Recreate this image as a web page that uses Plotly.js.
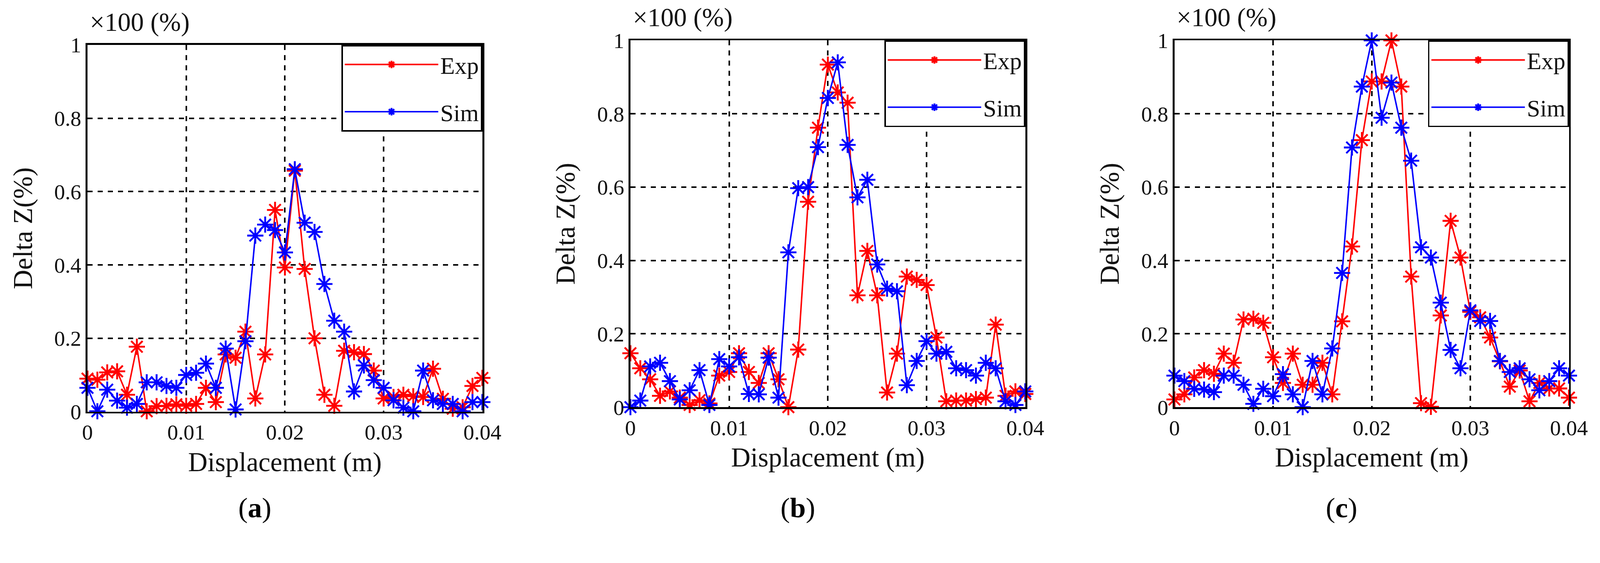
<!DOCTYPE html>
<html>
<head>
<meta charset="utf-8">
<script src="https://cdn.plot.ly/plotly-3.0.1.min.js"></script>
<style>
  html, body { margin: 0; padding: 0; background: #fff; overflow: hidden; }
</style>
</head>
<body>
<div id="chart"></div>
<script>
// displacement samples shared by all three panels (m)
const displacement = [
    0, 0.001, 0.002, 0.003, 0.004, 0.005, 0.006, 0.007, 0.008, 0.009,
    0.010, 0.011, 0.012, 0.013, 0.014, 0.015, 0.016, 0.017, 0.018, 0.019,
    0.020, 0.021, 0.022, 0.023, 0.024, 0.025, 0.026, 0.027, 0.028, 0.029,
    0.030, 0.031, 0.032, 0.033, 0.034, 0.035, 0.036, 0.037, 0.038, 0.039,
    0.040
];

const expA = [
    0.090, 0.087, 0.107, 0.110, 0.046, 0.177, 0.001, 0.015, 0.016, 0.020,
    0.016, 0.021, 0.065, 0.026, 0.156, 0.147, 0.218, 0.036, 0.156, 0.550,
    0.393, 0.657, 0.389, 0.200, 0.046, 0.016, 0.166, 0.162, 0.157, 0.112,
    0.036, 0.040, 0.046, 0.042, 0.040, 0.117, 0.035, 0.008, 0.012, 0.070,
    0.092
];
const simA = [
    0.065, 0.001, 0.060, 0.030, 0.011, 0.021, 0.080, 0.080, 0.070, 0.065,
    0.100, 0.106, 0.131, 0.065, 0.172, 0.006, 0.192, 0.480, 0.510, 0.495,
    0.434, 0.661, 0.515, 0.490, 0.348, 0.248, 0.218, 0.055, 0.126, 0.086,
    0.065, 0.031, 0.011, 0.001, 0.112, 0.031, 0.021, 0.021, 0.001, 0.026,
    0.026
];

const expB = [
    0.147, 0.106, 0.076, 0.031, 0.043, 0.026, 0.006, 0.019, 0.010, 0.086,
    0.096, 0.147, 0.096, 0.066, 0.147, 0.076, 0.000, 0.157, 0.560, 0.762,
    0.934, 0.858, 0.830, 0.305, 0.426, 0.305, 0.040, 0.146, 0.356, 0.347,
    0.333, 0.190, 0.016, 0.018, 0.018, 0.022, 0.026, 0.225, 0.031, 0.043,
    0.036
];
const simB = [
    0.000, 0.018, 0.111, 0.121, 0.071, 0.021, 0.046, 0.101, 0.006, 0.131,
    0.111, 0.136, 0.036, 0.035, 0.135, 0.026, 0.422, 0.597, 0.600, 0.709,
    0.843, 0.940, 0.715, 0.572, 0.620, 0.389, 0.323, 0.316, 0.060, 0.126,
    0.180, 0.146, 0.151, 0.106, 0.101, 0.086, 0.121, 0.106, 0.016, 0.006,
    0.043
];

const expC = [
    0.021, 0.035, 0.081, 0.101, 0.091, 0.146, 0.121, 0.239, 0.241, 0.230,
    0.136, 0.066, 0.146, 0.061, 0.061, 0.121, 0.035, 0.234, 0.438, 0.728,
    0.888, 0.888, 1.000, 0.874, 0.356, 0.011, 0.001, 0.250, 0.508, 0.408,
    0.260, 0.245, 0.190, 0.125, 0.056, 0.100, 0.016, 0.066, 0.051, 0.051,
    0.026
];
const simC = [
    0.086, 0.071, 0.050, 0.048, 0.041, 0.086, 0.086, 0.061, 0.009, 0.050,
    0.030, 0.090, 0.035, 0.000, 0.126, 0.035, 0.160, 0.366, 0.708, 0.874,
    1.000, 0.789, 0.885, 0.762, 0.672, 0.436, 0.408, 0.285, 0.156, 0.106,
    0.264, 0.235, 0.235, 0.126, 0.096, 0.106, 0.076, 0.046, 0.071, 0.106,
    0.086
];

const xTicks = [0, 0.01, 0.02, 0.03, 0.04];
const xTickText = ['0', '0.01', '0.02', '0.03', '0.04'];
const yTicks = [0, 0.2, 0.4, 0.6, 0.8, 1];
const yTickText = ['0', '0.2', '0.4', '0.6', '0.8', '1'];
const panelLabels = ['a', 'b', 'c'];

// design size; everything is scaled to whatever the window really offers
const BASE_W = 4279, BASE_H = 1441;
const S = Math.min(window.innerWidth / BASE_W, window.innerHeight / BASE_H);
const px = v => v * S;

const FONT = '"Liberation Serif", "Times New Roman", serif';
const TXT = '#111';

// plot frames in design pixels: [left, right, top, bottom]
const frames = [
    [234, 1290, 120, 1101],
    [1686, 2742, 108, 1089],
    [3141, 4196, 108, 1089]
];
const panelCentres = [682, 2134, 3588];

const panels = [
    { exp: expA, sim: simA },
    { exp: expB, sim: simB },
    { exp: expC, sim: simC }
];

function makeTrace(y, name, color, i) {
    const suffix = i === 0 ? '' : String(i + 1);
    return {
        type: 'scatter',
        mode: 'lines+markers',
        x: displacement,
        y: y,
        name: name,
        xaxis: 'x' + suffix,
        yaxis: 'y' + suffix,
        legend: 'legend' + suffix,
        legendgroup: name + i,
        cliponaxis: false,
        line: { color, width: px(4) },
        marker: { symbol: 'asterisk-open', size: px(36), color, line: { color, width: px(5) } }
    };
}

function axisBase() {
    return {
        showline: true,
        mirror: true,
        linecolor: '#000',
        linewidth: px(5),
        showgrid: true,
        gridcolor: '#000',
        gridwidth: px(4),
        griddash: Math.round(px(14)) + 'px,' + Math.round(px(14)) + 'px',
        zeroline: false,
        ticks: '',
        tickfont: { family: FONT, size: px(58), color: TXT },
        fixedrange: true
    };
}

const traces = [];
const layout = {
    width: px(BASE_W),
    height: px(BASE_H),
    margin: { l: 0, r: 0, t: 0, b: 0 },
    paper_bgcolor: '#fff',
    plot_bgcolor: '#fff',
    font: { family: FONT, color: TXT },
    showlegend: true,
    annotations: [],
};

panels.forEach((p, i) => {
    const suffix = i === 0 ? '' : String(i + 1);
    const [l, r, t, b] = frames[i];
    traces.push(makeTrace(p.exp, 'Exp', '#ff0000', i));
    traces.push(makeTrace(p.sim, 'Sim', '#0000ff', i));

    layout['xaxis' + suffix] = Object.assign(axisBase(), {
        domain: [l / BASE_W, r / BASE_W],
        anchor: 'y' + suffix,
        range: [0, 0.04],
        tickvals: xTicks,
        ticktext: xTickText,
        ticklabelstandoff: px(22),
        title: { text: 'Displacement (m)', font: { family: FONT, size: px(72), color: TXT }, standoff: px(24) }
    });
    layout['yaxis' + suffix] = Object.assign(axisBase(), {
        domain: [1 - b / BASE_H, 1 - t / BASE_H],
        anchor: 'x' + suffix,
        range: [0, 1],
        tickvals: yTicks,
        ticktext: yTickText,
        ticklabelstandoff: px(14),
        title: { text: 'Delta Z(%)', font: { family: FONT, size: px(72), color: TXT }, standoff: px(37) }
    });
    layout['legend' + suffix] = {
        x: r / BASE_W,
        y: 1 - t / BASE_H,
        xanchor: 'right',
        yanchor: 'top',
        bgcolor: '#fff',
        bordercolor: '#000',
        borderwidth: px(4),
        itemwidth: px(250),
        tracegroupgap: px(40),
        font: { family: FONT, size: px(64), color: TXT }
    };
    layout.annotations.push({
        xref: 'paper', yref: 'paper',
        x: (l + 4) / BASE_W, y: 1 - (t - 61) / BASE_H,
        xanchor: 'left', yanchor: 'middle',
        text: '×100 (%)',
        showarrow: false,
        font: { family: FONT, size: px(70), color: TXT }
    });
    layout.annotations.push({
        xref: 'paper', yref: 'paper',
        x: panelCentres[i] / BASE_W, y: 1 - 1358 / BASE_H,
        xanchor: 'center', yanchor: 'middle',
        text: '(<b>' + panelLabels[i] + '</b>)',
        showarrow: false,
        font: { family: FONT, size: px(76), color: '#000' }
    });
});

Plotly.newPlot('chart', traces, layout, { displayModeBar: false, staticPlot: true });
</script>
</body>
</html>
